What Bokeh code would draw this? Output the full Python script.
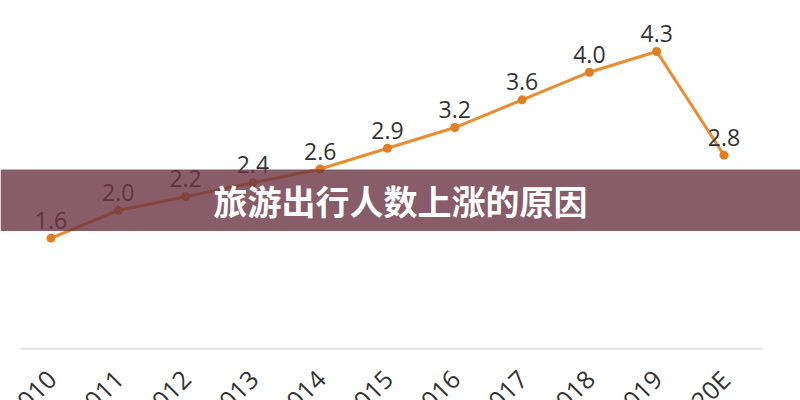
import math
from bokeh.plotting import figure
from bokeh.models import Range1d, BoxAnnotation, Label
from bokeh.core.properties import value
from bokeh.embed import file_html
from bokeh.resources import INLINE

# ---- data ----
years = ["2010", "2011", "2012", "2013", "2014", "2015", "2016", "2017", "2018", "2019", "2020E"]
travellers = [1.6, 2.0, 2.2, 2.4, 2.6, 2.9, 3.2, 3.6, 4.0, 4.3, 2.8]
value_labels = [f"{v:.1f}" for v in travellers]
banner_title = "旅游出行人数上涨的原因"

# ---- styles / layout ----
ORANGE = "#EB8C30"
ORANGE_DOT = "#E27E22"
TEXT = "#333333"
GRID = "#e4e4e4"
BANNER = "#6B3343"

n = len(years)
idx = list(range(n))

x0, x1 = -0.750, 11.137
y0, y1 = -0.748, 5.037
banner_bottom, banner_top = 1.704, 2.593

p = figure(width=800, height=400, output_backend="svg", toolbar_location=None,
           x_range=Range1d(x0, x1), y_range=Range1d(y0, y1),
           x_axis_location=None, y_axis_location=None,
           min_border=0, outline_line_color=None,
           background_fill_color="white", border_fill_color="white")
p.xgrid.visible = False
p.ygrid.visible = False

# baseline (axis line) spanning the category bands
p.segment(x0=[-0.45], x1=[n - 0.43], y0=[0], y1=[0], line_color=GRID, line_width=2)

# rotated category labels (cut by the bottom edge like the reference)
p.text(x=idx, y=[0] * n, text=years, angle=math.pi / 4,
       text_align="right", text_baseline="middle", x_offset=1, y_offset=26,
       text_font=value("Open Sans"), text_font_size="25px", text_color=TEXT)

# series
p.line(idx, travellers, line_color=ORANGE, line_width=3, line_join="round")
p.scatter(idx, travellers, marker="circle", size=9, fill_color=ORANGE_DOT, line_color=None)

# value labels
p.text(x=idx, y=travellers, text=value_labels, text_align="center",
       text_baseline="alphabetic", y_offset=-18,
       text_font=value("Open Sans"), text_font_size="23px", text_color=TEXT)

# translucent banner with title
banner = BoxAnnotation(bottom=banner_bottom, top=banner_top, fill_color=BANNER,
                       fill_alpha=0.8, line_alpha=0)
p.add_layout(banner)
title = Label(x=(x0 + x1) / 2, y=(banner_bottom + banner_top) / 2, text=banner_title,
              text_color="white", text_font="Noto Sans CJK SC", text_font_style="bold",
              text_font_size="34px", text_align="center", text_baseline="middle")
p.add_layout(title)

open("out.html", "w").write(file_html(p, INLINE))
